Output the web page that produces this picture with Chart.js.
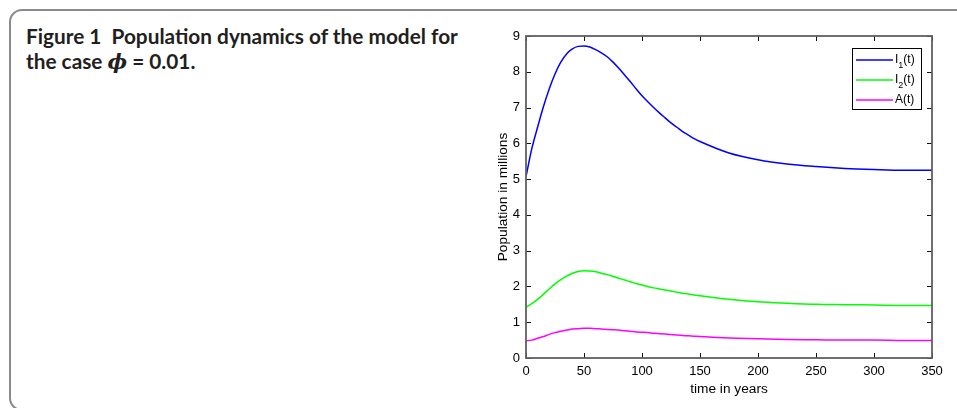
<!DOCTYPE html>
<html>
<head>
<meta charset="utf-8">
<script src="https://cdn.jsdelivr.net/npm/chart.js@4/dist/chart.umd.min.js"></script>
<style>
  html, body { margin: 0; padding: 0; background: #fff; }
  body { width: 957px; height: 408px; position: relative; overflow: hidden; }
  #frame {
    position: absolute; left: 9px; top: 9px; width: 1000px; height: 398px;
    border: 2px solid #8a8a8a; border-radius: 13px;
  }
  #caption {
    position: absolute; left: 26px; top: 23px; width: 460px; white-space: nowrap;
    font-family: "Lato", sans-serif; font-weight: bold; font-size: 20.8px;
    line-height: 25px; color: #231f20;
  }
  #caption i { font-family: "DejaVu Serif", serif; font-style: italic; }
  #wrap { position: absolute; left: 470px; top: 20px; }
</style>
</head>
<body>
<div id="frame"></div>
<div id="caption">Figure 1&nbsp;&nbsp;Population dynamics of the model for<br>the case <i>ϕ</i> = 0.01.</div>
<div id="wrap"><canvas id="popChart" width="487" height="388"></canvas></div>
<script>
// time in years
let years = [0, 5, 10, 15, 20, 25, 30, 35, 40, 45, 50, 55, 60, 65, 70, 75, 80, 85, 90, 95, 100,
    105, 110, 115, 120, 125, 130, 135, 140, 145, 150, 175, 200, 225, 250, 275, 300, 325, 350];

// population in millions
let i1 = [5.07, 5.85, 6.45, 7.02, 7.52, 7.94, 8.27, 8.50, 8.64, 8.71, 8.72, 8.69, 8.62, 8.53, 8.42, 8.27, 8.10, 7.91, 7.72, 7.52, 7.33,
    7.16, 7.00, 6.85, 6.71, 6.57, 6.45, 6.33, 6.23, 6.13, 6.05, 5.73, 5.54, 5.42, 5.35, 5.30, 5.27, 5.25, 5.25];
let i2 = [1.42, 1.52, 1.64, 1.78, 1.93, 2.07, 2.19, 2.29, 2.37, 2.42, 2.44, 2.43, 2.41, 2.37, 2.33, 2.28, 2.23, 2.18, 2.13, 2.08, 2.04,
    2.00, 1.96, 1.93, 1.90, 1.87, 1.84, 1.81, 1.79, 1.76, 1.74, 1.64, 1.57, 1.53, 1.50, 1.49, 1.48, 1.47, 1.47];
let aids = [0.48, 0.50, 0.55, 0.60, 0.66, 0.71, 0.75, 0.78, 0.81, 0.82, 0.83, 0.83, 0.82, 0.81, 0.80, 0.79, 0.78, 0.76, 0.75, 0.73, 0.72,
    0.71, 0.69, 0.68, 0.67, 0.66, 0.64, 0.63, 0.62, 0.61, 0.60, 0.56, 0.54, 0.52, 0.51, 0.50, 0.50, 0.49, 0.49];

let xTicks = [0, 50, 100, 150, 200, 250, 300, 350];
let yTicks = [0, 1, 2, 3, 4, 5, 6, 7, 8, 9];

// legend entries: base text, subscript, rest
let legendItems = [
    { base: "I", sub: "1", rest: "(t)", color: "#0000ff" },
    { base: "I", sub: "2", rest: "(t)", color: "#00ff00" },
    { base: "A(t)", sub: "", rest: "", color: "#ff00ff" }
];

const FONT = "'Liberation Sans', Arial, sans-serif";

function toPoints(values) {
    return years.map((t, i) => ({ x: t, y: values[i] }));
}

function makeSet(values, color) {
    return {
        data: toPoints(values),
        borderColor: color,
        borderWidth: 1.5,
        pointRadius: 0,
        fill: false,
        cubicInterpolationMode: 'monotone'
    };
}

// MATLAB style box with inward ticks on all four sides, y labels and the legend
const boxPlugin = {
    id: 'boxPlugin',
    afterDatasetsDraw(chart) {
        let ctx = chart.ctx;
        let a = chart.chartArea;
        let xs = chart.scales.x, ys = chart.scales.y;
        ctx.save();
        ctx.strokeStyle = '#111';
        ctx.lineWidth = 1;
        ctx.beginPath();
        xTicks.forEach(v => {
            let px = Math.round(xs.getPixelForValue(v)) + 0.5;
            ctx.moveTo(px, a.bottom); ctx.lineTo(px, a.bottom - 5);
            ctx.moveTo(px, a.top); ctx.lineTo(px, a.top + 5);
        });
        yTicks.forEach(v => {
            let py = Math.round(ys.getPixelForValue(v)) + 0.5;
            ctx.moveTo(a.left, py); ctx.lineTo(a.left + 5, py);
            ctx.moveTo(a.right, py); ctx.lineTo(a.right - 5, py);
        });
        ctx.stroke();
        ctx.strokeStyle = '#606060';
        ctx.lineWidth = 1.8;
        ctx.strokeRect(a.left, a.top, a.right - a.left, a.bottom - a.top);

        // y tick labels
        ctx.fillStyle = '#000';
        ctx.font = '13px ' + FONT;
        ctx.textAlign = 'right';
        ctx.textBaseline = 'middle';
        yTicks.forEach(v => {
            ctx.fillText(String(v), a.left - 6, ys.getPixelForValue(v));
        });
        ctx.restore();
    },
    afterDraw(chart) {
        let ctx = chart.ctx;
        let a = chart.chartArea;
        let w = 69, h = 61;
        let bx = a.right - 11 - w, by = a.top + 12;
        ctx.save();
        ctx.fillStyle = '#fff';
        ctx.fillRect(bx, by, w, h);
        ctx.strokeStyle = '#000';
        ctx.lineWidth = 1;
        ctx.strokeRect(bx + 0.5, by + 0.5, w, h);
        legendItems.forEach((item, i) => {
            let ly = by + 12 + i * 20;
            ctx.strokeStyle = item.color;
            ctx.lineWidth = 1.5;
            ctx.beginPath();
            ctx.moveTo(bx + 4, ly); ctx.lineTo(bx + 41, ly);
            ctx.stroke();
            ctx.fillStyle = '#000';
            ctx.textBaseline = 'middle';
            ctx.font = '12px ' + FONT;
            let tx = bx + 43;
            ctx.fillText(item.base, tx, ly);
            tx += ctx.measureText(item.base).width;
            if (item.sub) {
                ctx.font = '9px ' + FONT;
                ctx.fillText(item.sub, tx, ly + 6);
                tx += ctx.measureText(item.sub).width;
                ctx.font = '12px ' + FONT;
                ctx.fillText(item.rest, tx, ly);
            }
        });
        ctx.restore();
    }
};

let ctx = document.getElementById('popChart').getContext('2d');
let chartInstance = new Chart(ctx, {
    type: 'line',
    data: {
        datasets: [makeSet(i1, '#0000ff'), makeSet(i2, '#00ff00'), makeSet(aids, '#ff00ff')]
    },
    options: {
        responsive: false,
        animation: false,
        devicePixelRatio: 1,
        layout: { padding: { top: 16, right: 25, left: 0, bottom: 0 } },
        plugins: { legend: { display: false }, tooltip: { enabled: false } },
        scales: {
            x: {
                type: 'linear',
                min: 0, max: 350,
                afterFit: s => { s.height = 50; },
                afterBuildTicks: s => { s.ticks = xTicks.map(v => ({ value: v })); },
                grid: { display: false, drawTicks: false },
                border: { display: false },
                ticks: { color: '#000', padding: 6, minRotation: 0, maxRotation: 0, font: { family: FONT, size: 13 } },
                title: { display: true, text: 'time in years', color: '#000', padding: { top: 0, bottom: 11 }, font: { family: FONT, size: 13.7 } }
            },
            y: {
                type: 'linear',
                min: 0, max: 9,
                afterFit: s => { s.width = 56; },
                afterBuildTicks: s => { s.ticks = yTicks.map(v => ({ value: v })); },
                grid: { display: false, drawTicks: false },
                border: { display: false },
                ticks: { display: false },
                title: { display: true, text: 'Population in millions', color: '#000', padding: { top: 25, bottom: 0 }, font: { family: FONT, size: 13.7 } }
            }
        }
    },
    plugins: [boxPlugin]
});
</script>
</body>
</html>
